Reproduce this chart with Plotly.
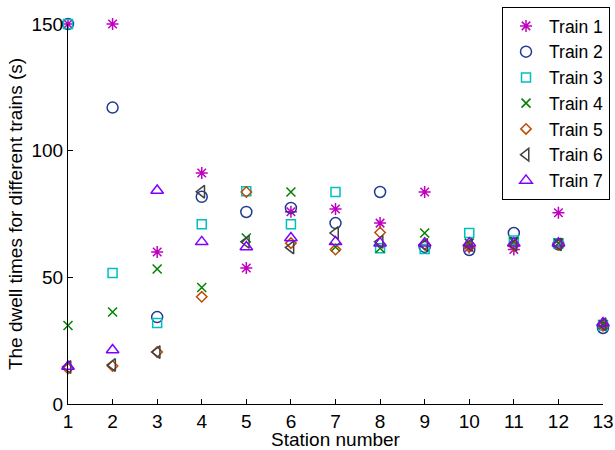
import plotly.graph_objects as go

stations = list(range(1, 14))
tick_vals_x = list(range(1, 14))
tick_vals_y = [0, 50, 100, 150]

train1 = [150, 150, 60, 91.2, 53.7, 75.9, 77, 71.4, 83.7, 61.8, 61, 75.5, 31]
train2 = [150, 117, 34.3, 81.8, 75.8, 77.4, 71.4, 83.7, 62, 60.8, 67.5, 63, 30]
train3 = [150, 51.7, 32, 71, 84, 71, 83.7, 61.5, 61.2, 67.5, 64.5, 63.5, 31]
train4 = [31, 36.3, 53.3, 46, 65.5, 83.7, 62, 61.5, 67.5, 63.5, 64, 63.5, 31.5]
train5 = [14, 15, 20.5, 42.3, 83.7, 63.5, 61, 67.7, 63, 62, 62.5, 63, 31]
train6 = [14.6, 15.4, 20.5, 83.8, 64, 61.8, 67.5, 64, 62.8, 62.8, 62.8, 63, 31.5]
train7 = [14.8, 21.3, 84.3, 64, 62, 65.5, 64, 63.5, 63.5, 63.5, 63.5, 63.5, 32]

names = ["Train 1", "Train 2", "Train 3", "Train 4", "Train 5", "Train 6", "Train 7"]
series = [train1, train2, train3, train4, train5, train6, train7]
colors = ["#C000C0", "#1F3A93", "#00BFBF", "#008000", "#C04A00", "#404040", "#8000FF"]
symbols = ["asterisk-open", "circle-open", "square-open", "x-thin-open",
           "diamond-open", "triangle-left-open", "triangle-up-open"]
sizes = [10, 11, 9, 9, 8, 11, 11]

fig = go.Figure()
for name, ys, c, s, sz in zip(names, series, colors, symbols, sizes):
    fig.add_trace(go.Scatter(
        x=stations, y=ys, mode="markers", name=name, cliponaxis=False,
        marker=dict(symbol=s, size=sz, color=c, line=dict(color=c, width=1.5)),
    ))

fig.update_layout(
    width=615, height=450,
    margin=dict(l=68, r=12, t=24, b=46, autoexpand=False),
    paper_bgcolor="white", plot_bgcolor="white",
    font=dict(family="Liberation Sans, Arial, sans-serif", size=19, color="#000000"),
    showlegend=True,
    legend=dict(
        x=1.0131, y=1.0447, xanchor="right", yanchor="top",
        bordercolor="#000000", borderwidth=1, bgcolor="white",
        font=dict(size=17.5), itemwidth=36,
    ),
    xaxis=dict(
        range=[1, 13], tickvals=tick_vals_x, ticks="inside", ticklen=5,
        tickcolor="#000", showline=True, linecolor="#000", linewidth=1,
        showgrid=False, zeroline=False, mirror=False,
        title=dict(text="Station number", standoff=5, font=dict(size=19)),
    ),
    yaxis=dict(
        range=[0, 150], tickvals=tick_vals_y, ticks="inside", ticklen=5,
        tickcolor="#000", showline=True, linecolor="#000", linewidth=1,
        showgrid=False, zeroline=False, mirror=False,
        title=dict(text="The dwell times for different trains (s)", standoff=3, font=dict(size=19)),
    ),
)

fig.write_html("out.html", config={"displayModeBar": False},
               post_script="document.body.style.margin='0';")
